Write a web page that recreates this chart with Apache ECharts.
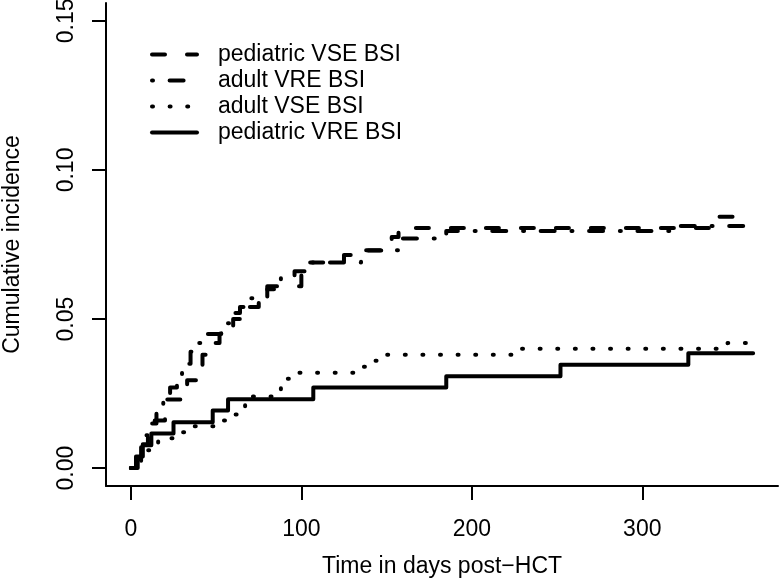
<!DOCTYPE html>
<html>
<head>
<meta charset="utf-8">
<script src="https://cdn.jsdelivr.net/npm/echarts@6/dist/echarts.min.js"></script>
<style>html,body{margin:0;padding:0;background:#fff}#c{width:780px;height:581px}</style>
</head>
<body>
<div id="c"></div>
<script>
// ---- data ----
const seriesNames = ['pediatric VSE BSI', 'adult VRE BSI', 'adult VSE BSI', 'pediatric VRE BSI'];
const xTicks = [0, 100, 200, 300];
const yTicks = [0, 0.05, 0.10, 0.15];

const pedVseDays = [0, 4, 7, 10, 14, 20, 31, 33, 39, 42, 47, 52, 60, 68, 75, 80, 100, 103, 125, 137, 153, 157, 345, 360];
const pedVseVals = [0, 0.004, 0.008, 0.012, 0.016, 0.023, 0.027, 0.0295, 0.034, 0.038, 0.042, 0.046, 0.050, 0.054, 0.058, 0.061, 0.065, 0.069, 0.0715, 0.073, 0.0775, 0.0805, 0.0843, 0.0843];

const adultVreDays = [0, 3, 6, 9, 12, 15, 19, 23, 27, 30, 35, 39, 45, 53, 60, 64, 70, 80, 88, 96, 106, 135, 158, 185, 320, 365];
const adultVreVals = [0, 0.003, 0.007, 0.011, 0.015, 0.019, 0.023, 0.027, 0.031, 0.035, 0.039, 0.042, 0.045, 0.0486, 0.052, 0.054, 0.057, 0.060, 0.064, 0.066, 0.069, 0.0731, 0.077, 0.0795, 0.0812, 0.0812];

const adultVseDays = [0, 3, 6, 9, 12, 16, 25, 35, 50, 58, 63, 67, 71, 84, 88, 91, 97, 133, 140, 147, 224, 350, 365];
const adultVseVals = [0, 0.002, 0.004, 0.006, 0.008, 0.010, 0.012, 0.014, 0.016, 0.018, 0.020, 0.022, 0.024, 0.026, 0.028, 0.030, 0.032, 0.034, 0.036, 0.038, 0.040, 0.042, 0.042];

const pedVreDays = [0, 3, 7, 12, 25, 48, 57, 107, 185, 252, 327, 365];
const pedVreVals = [0, 0.0039, 0.0077, 0.0116, 0.0154, 0.0193, 0.0231, 0.0270, 0.0308, 0.0347, 0.0385, 0.0385];

// ---- build ----
const zip = (xs, ys) => xs.map((x, i) => [x, ys[i]]);
const FONT = 'Liberation Sans, Arial, Helvetica, sans-serif';
const dashes = [[13, 22], [1, 16.6, 14, 16.8], [1, 16.6], 'solid'];
const datasets = [zip(pedVseDays, pedVseVals), zip(adultVreDays, adultVreVals), zip(adultVseDays, adultVseVals), zip(pedVreDays, pedVreVals)];

const chart = echarts.init(document.getElementById('c'), null, {renderer: 'canvas'});
chart.setOption({
  animation: false,
  backgroundColor: '#fff',
  textStyle: {fontFamily: FONT, color: '#000'},
  grid: {left: 106, right: 2, top: 3, bottom: 95, containLabel: false, outerBoundsMode: 'none'},
  legend: {
    orient: 'vertical', left: 150, top: 43, padding: 0,
    itemWidth: 45, itemHeight: 14, itemGap: 3,
    data: seriesNames,
    textStyle: {fontFamily: FONT, fontSize: 23, color: '#000', padding: [0, 0, 0, 16]},
    lineStyle: {width: 4},
    itemStyle: {opacity: 0, borderWidth: 0},
    selectedMode: false
  },
  xAxis: {
    type: 'value', min: -14.6, max: 379.6,
    name: 'Time in days post\u2212HCT', nameLocation: 'middle', nameGap: 69,
    nameTextStyle: {fontFamily: FONT, fontSize: 23, color: '#000'},
    axisLine: {show: true, onZero: false, lineStyle: {color: '#000', width: 2}},
    axisTick: {show: true, customValues: xTicks, length: 14, lineStyle: {color: '#000', width: 2}},
    axisLabel: {customValues: xTicks, margin: 32, fontFamily: FONT, fontSize: 23, color: '#000'},
    splitLine: {show: false}
  },
  yAxis: {
    type: 'value', min: -0.006, max: 0.156,
    name: 'Cumulative incidence', nameLocation: 'middle', nameGap: 82,
    nameTextStyle: {fontFamily: FONT, fontSize: 23, color: '#000'},
    axisLine: {show: true, onZero: false, lineStyle: {color: '#000', width: 2}},
    axisTick: {show: true, customValues: yTicks, length: 14, lineStyle: {color: '#000', width: 2}},
    axisLabel: {customValues: yTicks, rotate: 90, margin: 28, fontFamily: FONT, fontSize: 23, color: '#000',
      formatter: v => v.toFixed(2)},
    splitLine: {show: false}
  },
  series: seriesNames.map((n, i) => ({
    name: n, type: 'line', step: 'end', symbol: 'none', showSymbol: false,
    data: datasets[i],
    lineStyle: {color: '#000', width: 4, type: dashes[i], cap: 'round', join: 'round'},
    itemStyle: {color: '#000'},
    emphasis: {disabled: true}
  }))
});
</script>
</body>
</html>
